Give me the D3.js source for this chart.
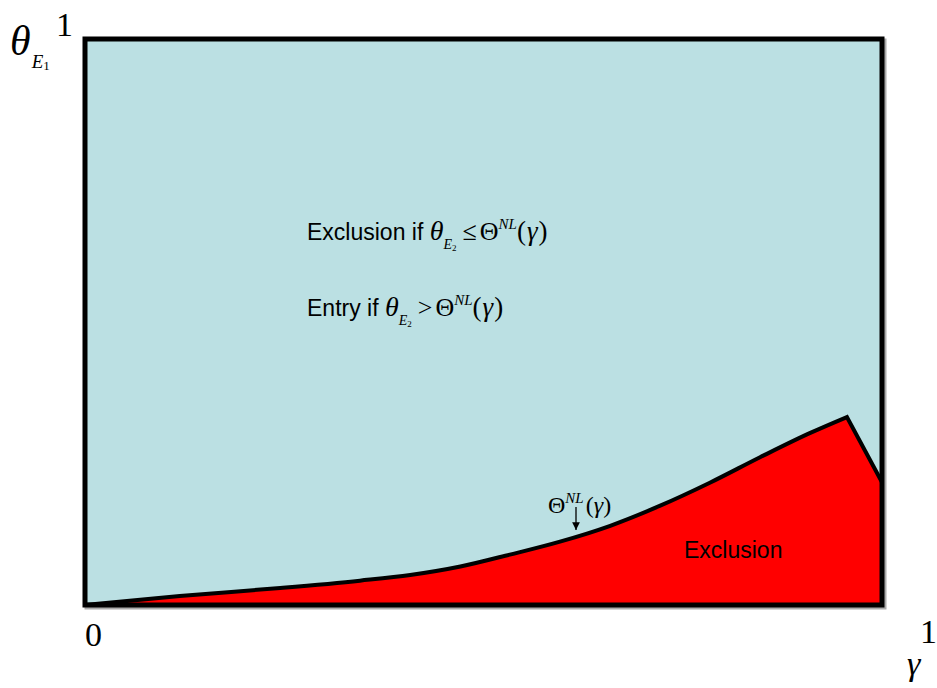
<!DOCTYPE html>
<html>
<head>
<meta charset="utf-8">
<script src="https://cdn.jsdelivr.net/npm/d3@7"></script>
<style>
  body { margin: 0; background: #fff; }
  svg { display: block; }
</style>
</head>
<body>
<script>
// threshold curve Theta^NL(gamma)
const gammaVals = [0, 0.119, 0.245, 0.345, 0.408, 0.471, 0.533, 0.596, 0.659, 0.721, 0.784, 0.847, 0.910, 0.956];
const thetaVals = [0, 0.016, 0.030, 0.043, 0.053, 0.068, 0.089, 0.112, 0.140, 0.175, 0.216, 0.261, 0.304, 0.332];
// kink after the peak, straight drop to the right edge
const dropGamma = [0.956, 1];
const dropTheta = [0.332, 0.217];

const SANS = "'Liberation Sans', Arial, Helvetica, sans-serif";
const SERIF = "'Liberation Serif', 'Times New Roman', Times, serif";

const margin = { top: 39, right: 55, bottom: 83, left: 85 };
const W = 937, H = 688;
const width = W - margin.left - margin.right;
const height = H - margin.top - margin.bottom;

const x = d3.scaleLinear().domain([0, 1]).range([0, width]);
const y = d3.scaleLinear().domain([0, 1]).range([height, 0]);

const rise = gammaVals.map((g, i) => ({ g: g, t: thetaVals[i] }));
const drop = dropGamma.map((g, i) => ({ g: g, t: dropTheta[i] }));

const svg = d3.select("body").append("svg")
    .attr("width", W)
    .attr("height", H);

const g = svg.append("g")
    .attr("transform", "translate(" + margin.left + "," + margin.top + ")");

// small grey shadow behind the frame
g.append("rect")
    .attr("x", x(0) + 2).attr("y", y(1) + 2)
    .attr("width", x(1) - x(0)).attr("height", y(0) - y(1))
    .attr("fill", "none")
    .attr("stroke", "#aaa")
    .attr("stroke-width", 5);

g.append("rect")
    .attr("x", x(0)).attr("y", y(1))
    .attr("width", x(1) - x(0)).attr("height", y(0) - y(1))
    .attr("fill", "#bbe0e3");

const line = d3.line()
    .x(d => x(d.g))
    .y(d => y(d.t))
    .curve(d3.curveMonotoneX);

const last = drop[drop.length - 1];
const curvePath = line(rise) + "L" + x(last.g) + "," + y(last.t);

// exclusion region under the curve
g.append("path")
    .attr("d", curvePath + "L" + x(1) + "," + y(0) + "L" + x(0) + "," + y(0) + "Z")
    .attr("fill", "#ff0000");

g.append("path")
    .attr("d", curvePath)
    .attr("fill", "none")
    .attr("stroke", "#000")
    .attr("stroke-width", 4)
    .attr("stroke-linejoin", "miter");

g.append("rect")
    .attr("x", x(0)).attr("y", y(1))
    .attr("width", x(1) - x(0)).attr("height", y(0) - y(1))
    .attr("fill", "none")
    .attr("stroke", "#000")
    .attr("stroke-width", 5);

// axis labels
g.append("text").attr("font-family", SERIF)
    .attr("x", x(0)).attr("y", y(0) + 41)
    .attr("font-size", 34)
    .text("0");

g.append("text").attr("font-family", SERIF)
    .attr("x", x(1) + 38).attr("y", y(0) + 38)
    .attr("font-size", 34)
    .text("1");

g.append("text").attr("font-family", SERIF)
    .attr("x", x(1) + 25).attr("y", y(0) + 70)
    .attr("font-size", 34)
    .attr("font-style", "italic")
    .text("γ");

g.append("text").attr("font-family", SERIF)
    .attr("x", x(0) - 29).attr("y", y(1) - 3)
    .attr("font-size", 34)
    .text("1");

const yl = g.append("text").attr("font-family", SERIF)
    .attr("x", x(0) - 75).attr("y", y(1) + 16)
    .attr("font-size", 42);
yl.append("tspan").attr("font-style", "italic").text("θ");
yl.append("tspan").attr("font-style", "italic").attr("font-size", 19).attr("dx", 1).attr("dy", 13).text("E");
yl.append("tspan").attr("font-size", 13).attr("dy", 2).text("1");

// region descriptions
function condition(sel, label, rel) {
    sel.attr("font-family", SERIF);
    sel.append("tspan").attr("font-family", SANS).attr("font-size", 23).text(label);
    sel.append("tspan").attr("font-style", "italic").attr("font-size", 28).text("θ");
    sel.append("tspan").attr("font-style", "italic").attr("font-size", 14).attr("dy", 9).text("E");
    sel.append("tspan").attr("font-size", 9).attr("dy", 2).text("2");
    sel.append("tspan").attr("font-size", 26).attr("dx", 6).attr("dy", -11).text(rel);
    sel.append("tspan").attr("font-size", 26).attr("dx", 3).text("Θ");
    sel.append("tspan").attr("font-style", "italic").attr("font-size", 15).attr("dy", -11).text("NL");
    sel.append("tspan").attr("font-size", 27).attr("dy", 11).text("(");
    sel.append("tspan").attr("font-style", "italic").attr("font-size", 27).attr("dx", 1).text("γ");
    sel.append("tspan").attr("font-size", 27).attr("dx", 1).text(")");
}

condition(g.append("text").attr("x", 222).attr("y", 201), "Exclusion if ", "≤");
condition(g.append("text").attr("x", 222).attr("y", 277), "Entry if ", ">");

// curve label with arrow
const cl = g.append("text").attr("font-family", SERIF)
    .attr("x", 463).attr("y", 474)
    .attr("font-size", 24);
cl.append("tspan").text("Θ");
cl.append("tspan").attr("font-style", "italic").attr("font-size", 15).attr("dy", -10).text("NL");
cl.append("tspan").attr("dx", 2).attr("dy", 10).text("(");
cl.append("tspan").attr("font-style", "italic").text("γ");
cl.append("tspan").text(")");

svg.append("defs").append("marker")
    .attr("id", "head")
    .attr("viewBox", "0 0 10 10")
    .attr("refX", 10).attr("refY", 5)
    .attr("markerWidth", 6).attr("markerHeight", 6)
    .attr("orient", "auto")
  .append("path")
    .attr("d", "M0,0L10,5L0,10Z")
    .attr("fill", "#000");

g.append("line")
    .attr("x1", 491).attr("y1", 468)
    .attr("x2", 491).attr("y2", 491)
    .attr("stroke", "#000")
    .attr("stroke-width", 1.3)
    .attr("marker-end", "url(#head)");

g.append("text").attr("font-family", SANS)
    .attr("x", 599).attr("y", 519)
    .attr("font-size", 23)
    .text("Exclusion");
</script>
</body>
</html>
